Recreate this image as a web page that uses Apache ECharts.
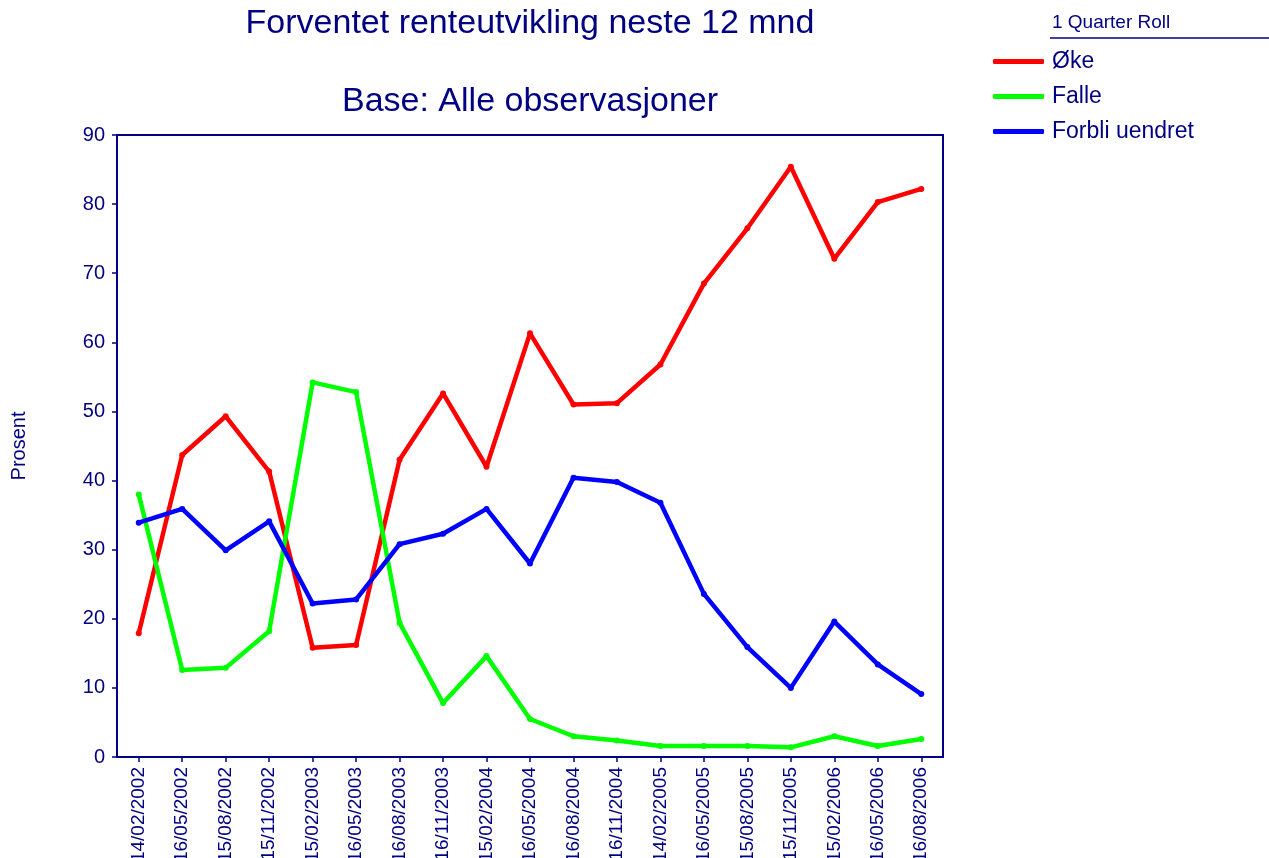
<!DOCTYPE html>
<html>
<head>
<meta charset="utf-8">
<script src="https://cdn.jsdelivr.net/npm/echarts@6/dist/echarts.min.js"></script>
<style>
html,body{margin:0;padding:0;background:#fff;}
#chart{width:1269px;height:858px;}
</style>
</head>
<body>
<div id="chart"></div>
<script>
var categories = ['14/02/2002','16/05/2002','15/08/2002','15/11/2002','15/02/2003','16/05/2003','16/08/2003','16/11/2003','15/02/2004','16/05/2004','16/08/2004','16/11/2004','14/02/2005','16/05/2005','15/08/2005','15/11/2005','15/02/2006','16/05/2006','16/08/2006'];
var okeValues = [17.9,43.7,49.3,41.3,15.8,16.2,43.0,52.6,42.0,61.3,51.0,51.2,56.8,68.5,76.5,85.4,72.1,80.3,82.2];
var falleValues = [38.0,12.6,12.9,18.2,54.2,52.8,19.4,7.8,14.6,5.5,3.0,2.4,1.6,1.6,1.6,1.4,3.0,1.6,2.6];
var uendretValues = [33.9,35.9,29.9,34.1,22.2,22.8,30.8,32.3,35.9,28.0,40.4,39.8,36.8,23.6,15.9,10.0,19.6,13.4,9.1];
var seriesNames = ['Øke','Falle','Forbli uendret'];
var yTicks = {min:0, max:90, interval:10};

var navy = '#000080';
var font = 'Liberation Sans, Arial, sans-serif';
var chart = echarts.init(document.getElementById('chart'));

function mkSeries(name, data, color){
  return {
    name: name, type: 'line', data: data,
    symbol: 'circle', symbolSize: 6, showSymbol: true,
    lineStyle: {color: color, width: 4.5},
    itemStyle: {color: color},
    emphasis: {disabled: true},
    animation: false
  };
}

chart.setOption({
  backgroundColor: '#ffffff',
  animation: false,
  title: [
    {text: 'Forventet renteutvikling neste 12 mnd', left: 530, top: 7, textAlign: 'center', padding: 0,
     textStyle: {color: navy, fontFamily: font, fontSize: 34, fontWeight: 'normal'}},
    {text: 'Base: Alle observasjoner', left: 530, top: 85, textAlign: 'center', padding: 0,
     textStyle: {color: navy, fontFamily: font, fontSize: 34, fontWeight: 'normal'}},
    {text: '1 Quarter Roll', left: 1052, top: 13, padding: 0,
     textStyle: {color: navy, fontFamily: font, fontSize: 19, fontWeight: 'normal'}}
  ],
  graphic: [
    {type: 'line', shape: {x1: 1050, y1: 38, x2: 1269, y2: 38}, style: {stroke: navy, lineWidth: 1.5}, silent: true}
  ],
  legend: {
    orient: 'vertical', left: 993, top: 50, padding: 0,
    itemWidth: 51, itemHeight: 5, itemGap: 12,
    icon: 'roundRect',
    data: seriesNames,
    textStyle: {color: navy, fontFamily: font, fontSize: 23, padding: [0,0,0,3]},
    selectedMode: false
  },
  grid: {left: 117, top: 135, right: 326, bottom: 101, outerBoundsMode: 'none', containLabel: false,
         show: true, borderColor: navy, borderWidth: 2, backgroundColor: '#fff'},
  xAxis: {
    type: 'category', data: categories, boundaryGap: true,
    axisLine: {lineStyle: {color: navy, width: 2}},
    axisTick: {show: true, alignWithLabel: true, length: 5, lineStyle: {color: navy, width: 1.5}},
    axisLabel: {rotate: 90, interval: 0, color: navy, fontFamily: font, fontSize: 19, margin: 10},
    splitLine: {show: false}
  },
  yAxis: {
    type: 'value', min: yTicks.min, max: yTicks.max, interval: yTicks.interval,
    name: 'Prosent', nameLocation: 'middle', nameRotate: 90, nameGap: 88,
    nameTextStyle: {color: navy, fontFamily: font, fontSize: 20},
    axisLine: {show: true, lineStyle: {color: navy, width: 2}},
    axisTick: {show: true, length: 5, lineStyle: {color: navy, width: 1.5}},
    axisLabel: {color: navy, fontFamily: font, fontSize: 20, margin: 12},
    splitLine: {show: false}
  },
  series: [
    mkSeries(seriesNames[0], okeValues, '#ff0000'),
    mkSeries(seriesNames[1], falleValues, '#00ff00'),
    mkSeries(seriesNames[2], uendretValues, '#0000ff')
  ]
});
</script>
</body>
</html>
